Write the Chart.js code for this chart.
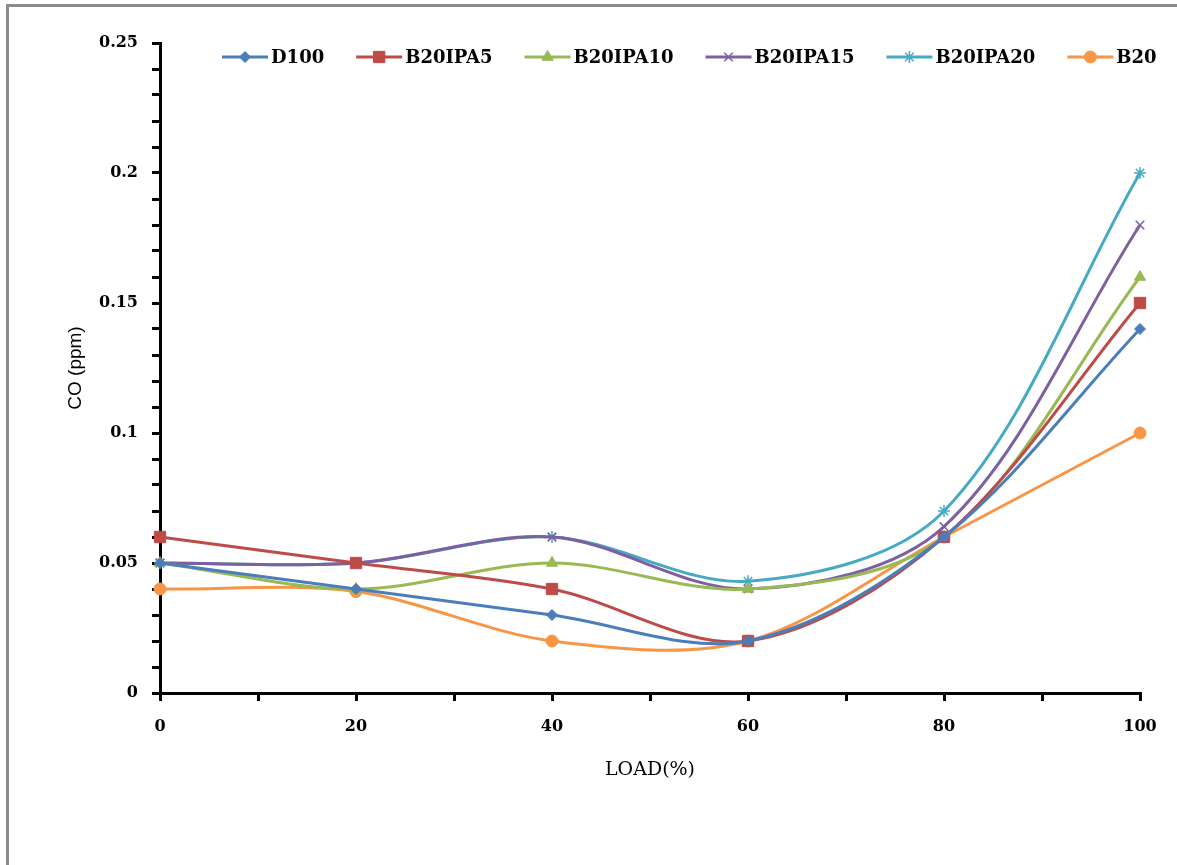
<!DOCTYPE html>
<html>
<head>
<meta charset="utf-8">
<script src="https://cdn.jsdelivr.net/npm/chart.js@4.4.1/dist/chart.umd.min.js"></script>
<style>
  html, body { margin: 0; padding: 0; background: #fff; overflow: hidden; }
  #wrap { position: relative; width: 1177px; height: 865px; overflow: hidden; }
  #frame { position: absolute; left: 6px; top: 4px; width: 1250px; height: 950px;
           border-left: 3px solid #8c8c8c; border-top: 3px solid #8c8c8c; }
  #coChart { position: absolute; left: 0; top: 0; }
</style>
</head>
<body>
<div id="wrap">
  <div id="frame"></div>
  <canvas id="coChart" width="1177" height="865"></canvas>
</div>
<script>
// load (%) on the x axis
var loads = [0, 20, 40, 60, 80, 100];

// CO (ppm) per fuel blend
var d100     = [0.05, 0.04, 0.03, 0.02, 0.06, 0.14];
var b20ipa5  = [0.06, 0.05, 0.04, 0.02, 0.06, 0.15];
var b20ipa10 = [0.05, 0.04, 0.05, 0.04, 0.06, 0.16];
var b20ipa15 = [0.05, 0.05, 0.06, 0.04, 0.064, 0.18];
var b20ipa20 = [0.05, 0.05, 0.06, 0.043, 0.07, 0.20];
var b20      = [0.04, 0.039, 0.02, 0.02, 0.06, 0.10];

var seriesNames = ['D100', 'B20IPA5', 'B20IPA10', 'B20IPA15', 'B20IPA20', 'B20'];
var seriesValues = [d100, b20ipa5, b20ipa10, b20ipa15, b20ipa20, b20];
var seriesColors = ['#4a7ebb', '#be4b48', '#98b954', '#7d60a0', '#46aac5', '#f79646'];
var seriesMarkers = ['rectRot', 'rect', 'triangle', 'crossRot', 'star', 'circle'];
var markerSizes = [5.5, 8, 6.5, 6, 6, 6];

function toPoints(values) {
    return values.map(function (v, i) { return { x: loads[i], y: v }; });
}

var datasets = seriesNames.map(function (name, i) {
    return {
        label: name,
        data: toPoints(seriesValues[i]),
        borderColor: seriesColors[i],
        backgroundColor: seriesColors[i],
        pointBackgroundColor: seriesColors[i],
        pointBorderColor: seriesColors[i],
        pointStyle: seriesMarkers[i],
        pointRadius: markerSizes[i],
        pointBorderWidth: seriesMarkers[i] === 'crossRot' || seriesMarkers[i] === 'star' ? 1.5 : 1,
        borderWidth: 3,
        tension: 0.33,
        fill: false,
        clip: false
    };
});

// legend drawn by hand so it can sit inside the plot like the original
var legendStart = 222;
var legendY = 57;
var legendLine = 46;
var legendGap = 32;

var insideLegend = {
    id: 'insideLegend',
    afterDraw: function (chart) {
        var ctx = chart.ctx;
        ctx.save();
        ctx.font = 'bold 18px "DejaVu Serif"';
        ctx.textBaseline = 'middle';
        ctx.textAlign = 'left';
        var x = legendStart;
        chart.data.datasets.forEach(function (ds) {
            ctx.strokeStyle = ds.borderColor;
            ctx.lineWidth = 3;
            ctx.beginPath();
            ctx.moveTo(x, legendY);
            ctx.lineTo(x + legendLine, legendY);
            ctx.stroke();
            ctx.fillStyle = ds.backgroundColor;
            ctx.strokeStyle = ds.borderColor;
            ctx.lineWidth = ds.pointBorderWidth;
            Chart.helpers.drawPoint(ctx, {
                pointStyle: ds.pointStyle,
                radius: ds.pointRadius,
                rotation: 0,
                borderWidth: ds.pointBorderWidth
            }, x + legendLine / 2, legendY);
            ctx.fillStyle = '#000';
            ctx.fillText(ds.label, x + legendLine + 3, legendY + 1);
            x += legendLine + 3 + ctx.measureText(ds.label).width + legendGap;
        });
        ctx.restore();
    }
};

var ctx = document.getElementById('coChart').getContext('2d');
var myChart = new Chart(ctx, {
    type: 'line',
    data: { datasets: datasets },
    plugins: [insideLegend],
    options: {
        responsive: false,
        animation: false,
        layout: { padding: { top: 43, right: 37, bottom: 84, left: 0 } },
        plugins: {
            legend: { display: false },
            tooltip: { enabled: false }
        },
        scales: {
            x: {
                type: 'linear',
                min: 0,
                max: 100,
                afterFit: function (scale) { scale.height = 88; },
                ticks: {
                    stepSize: 10,
                    padding: 16,
                    color: '#000',
                    maxRotation: 0,
                    autoSkip: false,
                    font: { family: 'DejaVu Serif', size: 16, weight: 'bold' },
                    callback: function (v) { return v % 20 === 0 ? String(v) : ''; }
                },
                grid: { drawOnChartArea: false, color: '#000', lineWidth: 3, tickLength: 8 },
                border: { display: true, color: '#000', width: 3 },
                title: {
                    display: true,
                    text: 'LOAD(%)',
                    color: '#000',
                    padding: { top: 0, bottom: 0 },
                    font: { family: 'DejaVu Serif', size: 19 }
                }
            },
            y: {
                min: 0,
                max: 0.25,
                afterFit: function (scale) { scale.width = 160; },
                ticks: {
                    stepSize: 0.01,
                    padding: 14,
                    color: '#000',
                    autoSkip: false,
                    font: { family: 'DejaVu Serif', size: 16, weight: 'bold' },
                    callback: function (v) {
                        var r = Math.round(v * 100);
                        return r % 5 === 0 ? String(r / 100) : '';
                    }
                },
                grid: { drawOnChartArea: false, color: '#000', lineWidth: 3, tickLength: 8 },
                border: { display: true, color: '#000', width: 3 },
                title: {
                    display: true,
                    text: 'CO (ppm)',
                    color: '#000',
                    padding: { top: 64, bottom: 0 },
                    font: { family: 'Liberation Sans', size: 19 }
                }
            }
        }
    }
});
</script>
</body>
</html>
